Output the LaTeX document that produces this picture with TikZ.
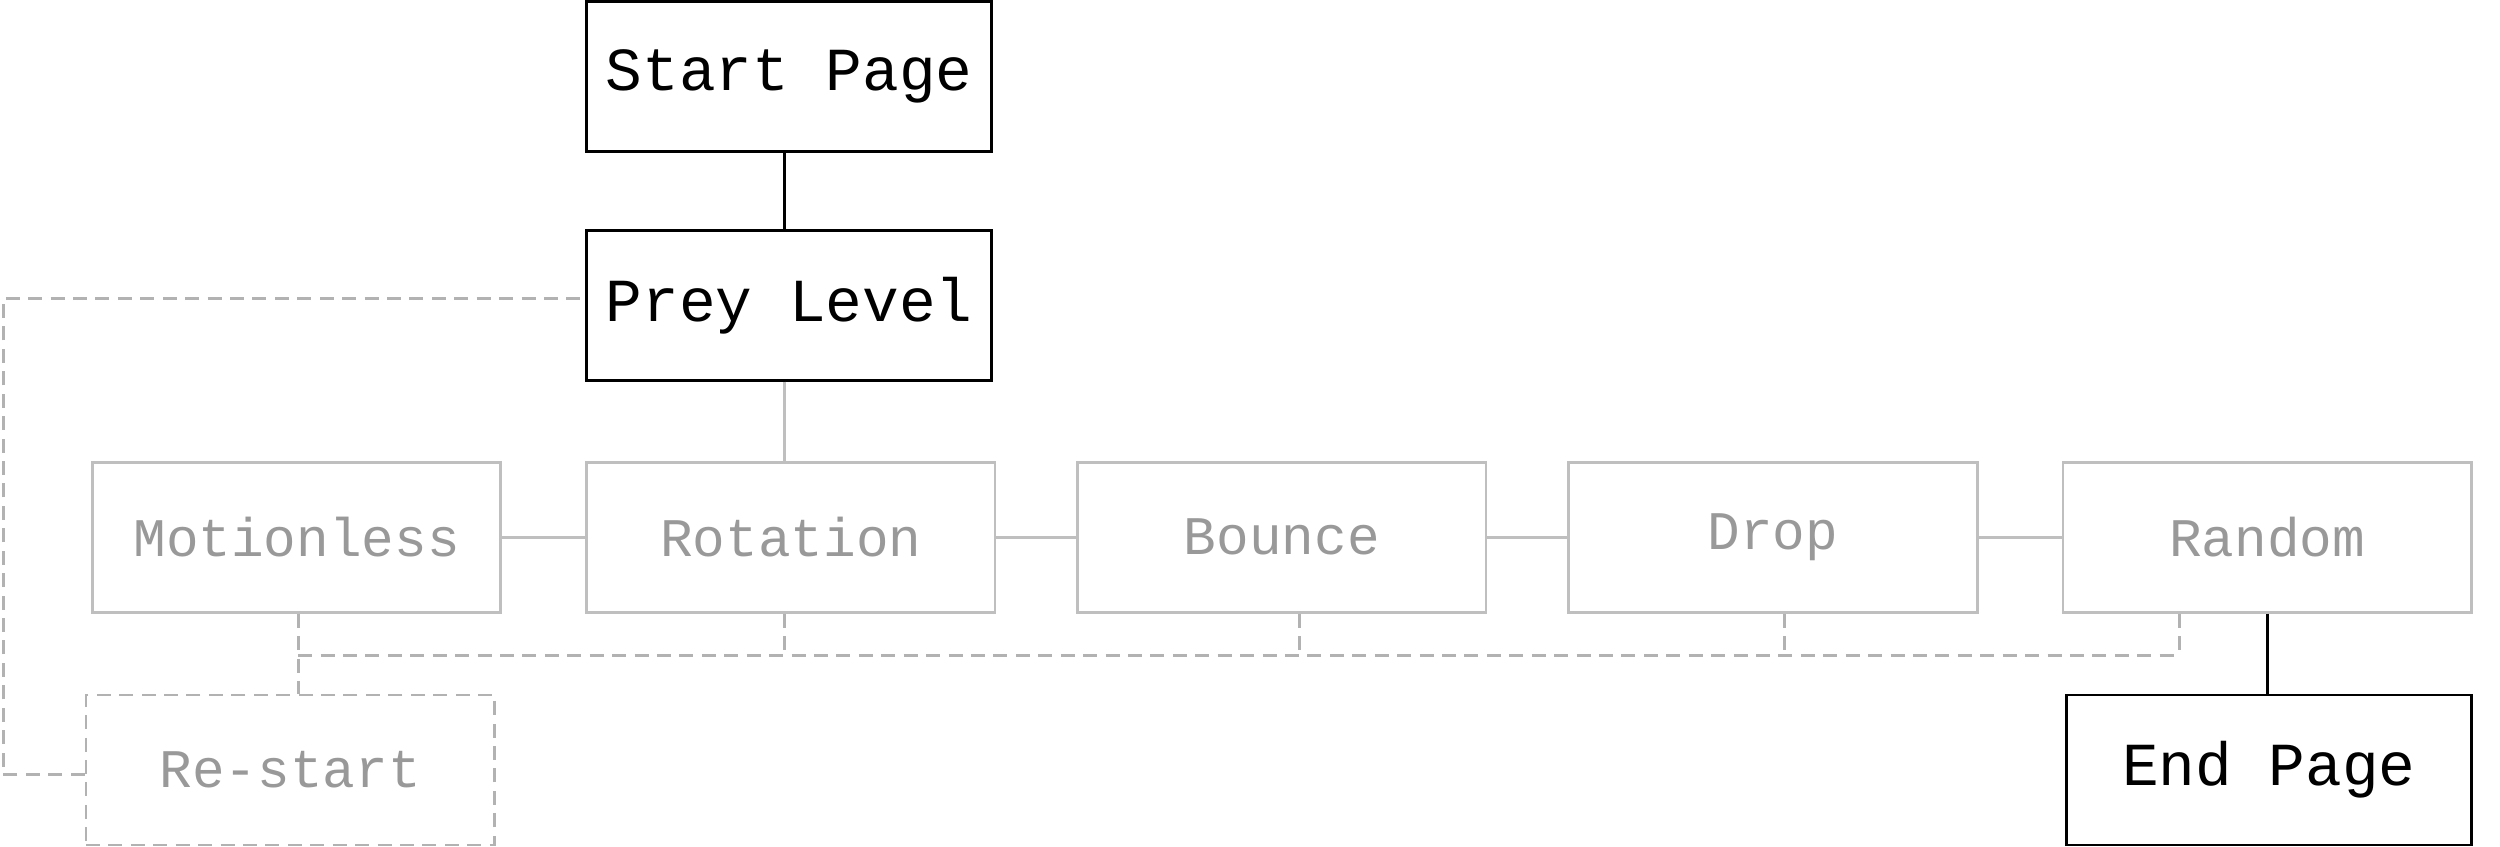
\documentclass[tikz,border=0pt]{standalone}
\usepackage{fontspec}
\setmonofont{Liberation Mono}
\begin{document}
\begin{tikzpicture}[x=0.01cm,y=-0.01cm,
  blk/.style={draw=black,line width=0.5pt,minimum width=2.54cm,minimum height=0.94cm,inner sep=0,font=\ttfamily\fontsize{10.9}{12}\selectfont,text=black},
  gry/.style={draw=black!25,line width=0.5pt,minimum width=2.56cm,minimum height=0.94cm,inner sep=0,font=\ttfamily\fontsize{9.7}{11}\selectfont,text=black!40},
  gl/.style={draw=black!25,line width=0.5pt},
  gd/.style={draw=black!30,line width=0.5pt,dash pattern=on 2.5pt off 1.5pt},
  bl/.style={draw=black,line width=0.5pt}]
\useasboundingbox (0,0) rectangle (1568,531);
\node[blk] (start) at (495,48) {Start Page};
\node[blk] (prey) at (495,191.5) {Prey Level};
\node[gry] (mot) at (186,337) {Motionless};
\node[gry] (rot) at (496,337) {Rotation};
\node[gry] (bou) at (804,337) {Bounce};
\node[gry] (dro) at (1112,337) {Drop};
\node[gry] (ran) at (1422,337) {Random};
\node[gry,gd] (re) at (182,483) {Re-start};
\node[blk] (end) at (1423,483) {End Page};
\draw[bl] (start.south -| 492,0) -- (prey.north -| 492,0);
\draw[gl] (prey.south -| 492,0) -- (rot.north -| 492,0);
\draw[gl] (mot) -- (rot) (rot) -- (bou) (bou) -- (dro) (dro) -- (ran);
\draw[bl] (ran.south -| 1422,0) -- (end.north -| 1422,0);
\coordinate (b1) at (187,411);
\coordinate (b2) at (1367,411);
\draw[gd] (b1) -- (b2);
\draw[gd] (mot.south -| b1) -- (re.north -| b1);
\foreach \n/\x in {rot/492,bou/815,dro/1119,ran/1367}
  \draw[gd] (\n.south -| \x,0) -- (\x,411);
\coordinate (c1) at (2,486);
\coordinate (c2) at (2,187);
\draw[gd] (re.west |- c1) -- (c1) -- (c2) -- (prey.west |- c2);
\end{tikzpicture}
\end{document}
